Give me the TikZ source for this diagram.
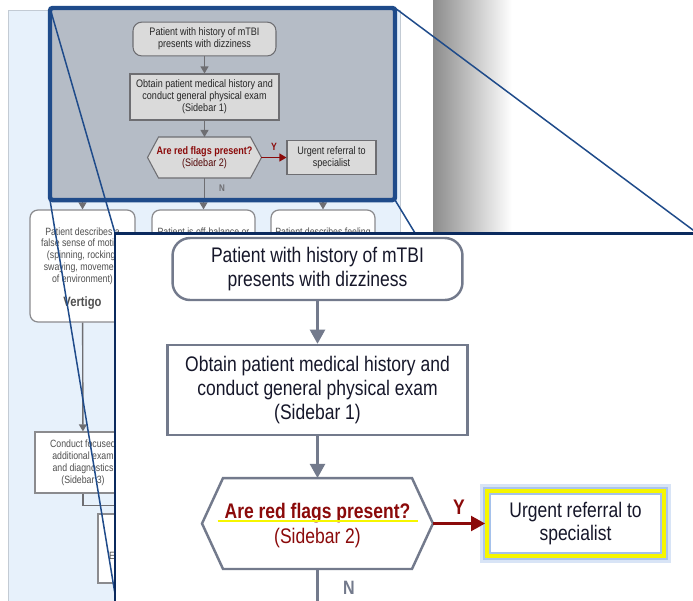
\documentclass[tikz,border=0pt]{standalone}
\usepackage{fontspec}
\setmainfont[FakeStretch=0.83]{Liberation Sans}
\usetikzlibrary{arrows.meta,calc}
\definecolor{panelblue}{HTML}{E7F1FB}
\definecolor{panelline}{HTML}{C3CBD4}
\definecolor{hlfill}{HTML}{B5BCC6}
\definecolor{hlblue}{HTML}{1F4B8A}
\definecolor{insetnavy}{HTML}{0B2A5E}
\definecolor{boxgray}{HTML}{737A8C}
\definecolor{smallgray}{HTML}{6E6E72}
\definecolor{smallfill}{HTML}{DADADA}
\definecolor{flagred}{HTML}{8B0A0A}
\definecolor{inktext}{HTML}{16172A}
\definecolor{pagetext}{HTML}{505050}
\definecolor{glowblue}{HTML}{7FA7E2}
\definecolor{markyellow}{HTML}{F6F600}
\definecolor{shadowgray}{HTML}{8C8C8C}

\begin{document}
\begin{tikzpicture}[x=0.02cm,y=-0.02cm,
	bigbox/.style={draw=boxgray,line width=1.4pt,fill=white,text=inktext,align=center,font=\fontsize{12}{13.6}\selectfont},
	bigline/.style={draw=boxgray,line width=1.4pt},
	bigarrow/.style={bigline,-{Triangle[width=8.5pt,length=8pt]}},
	redarrow/.style={draw=flagred,line width=1.4pt,-{Triangle[width=8.5pt,length=8pt]}},
	smallbox/.style={draw=smallgray,line width=0.6pt,fill=smallfill,text=black!85,align=center,font=\fontsize{6.2}{6.8}\selectfont},
	smallline/.style={draw=smallgray,line width=0.8pt},
	smallarrow/.style={smallline,-{Triangle[width=4.5pt,length=4pt]}},
	smallred/.style={draw=flagred,line width=0.8pt,-{Triangle[width=4.5pt,length=4pt]}},
	pagebox/.style={draw=smallgray!80,line width=0.7pt,fill=white,text=pagetext,align=center,font=\fontsize{6}{6.8}\selectfont},
	pagetxt/.style={text=pagetext,align=center,font=\fontsize{6}{6.8}\selectfont},
	zoomline/.style={draw=hlblue,line width=0.85pt},
	hexslot/.style={draw=none,inner sep=0pt,outer sep=0pt},
	urgentbox/.style={bigbox,draw=markyellow,line width=2.8pt,
		preaction={draw=glowblue,line width=8.5pt,opacity=0.3},
		preaction={draw=glowblue,line width=5.5pt,opacity=0.5}}]
	\useasboundingbox (0,0) rectangle (693,600);
	\clip (0,0) rectangle (693,600);
	\fill[white] (0,0) rectangle (693,600);
	\coordinate (hl-nw) at (50,8);
	\coordinate (hl-sw) at (50,200);
	\coordinate (hl-ne) at (395,8);
	\coordinate (hl-se) at (395,200);
	\coordinate (in-nw) at (115,233);
	\coordinate (in-sw) at (116,600);
	\coordinate (in-ne) at (697,233);
	\coordinate (in-se) at (475,332);
	\coordinate (bottom) at (0,620);

	% page behind the zoom
	\draw[fill=panelblue,draw=panelline,line width=0.5pt] (8,10) rectangle (400,620);
	\shade[left color=shadowgray,right color=white] (433,-5) rectangle (512,240);

	\node[pagebox,rounded corners=4.5pt,minimum width=2.1cm,minimum height=2.24cm] (b1) at (82.5,266) {};
	\node[pagebox,rounded corners=4.5pt,minimum width=2.06cm,minimum height=2.24cm] (b2) at (203.5,266) {};
	\node[pagebox,rounded corners=4.5pt,minimum width=2.08cm,minimum height=2.24cm] (b3) at (323,266) {};
	\node[pagetxt,anchor=north,inner sep=0pt] (b1text) at (82.5,227) {Patient describes a\\false sense of motion\\(spinning, rocking,\\swaying, movement\\of environment)};
	\node[pagetxt,font=\fontsize{7.7}{8}\selectfont\bfseries] (vertigo) at (82.5,303) {Vertigo};
	\node[pagetxt,anchor=north,inner sep=0pt] (b2text) at (203.5,227) {Patient is off-balance or};
	\node[pagetxt,anchor=north,inner sep=0pt] (b3text) at (323,227) {Patient describes feeling};
	\node[pagebox,minimum width=1.92cm,minimum height=1.22cm] (b4) at (83,462.5) {Conduct focused\\additional exam\\and diagnostics\\(Sidebar 3)};
	\node[pagebox,minimum width=2cm,minimum height=1.38cm] (b5) at (148,548.5) {};
	\node[pagetxt,anchor=west] (b5text) at (103,556) {E};
	\draw[smallarrow] (b1) -- (b4);
	\draw[smallline] (b4.south) -- ++(0,12) -- ++(60,0);
	\foreach \b in {b1,b2,b3}
	\draw[smallarrow] (\b.north |- hl-sw) -- (\b.north);

	% highlighted part
	\fill[hlfill] (hl-nw) rectangle (hl-se);
	\node[smallbox,rounded corners=5pt,minimum width=2.86cm,minimum height=0.6cm] (shistory) at (204.5,39) {Patient with history of mTBI\\presents with dizziness};
	\node[smallbox,minimum width=2.98cm,minimum height=0.92cm] (sexam) at (204.5,97) {Obtain patient medical history and\\conduct general physical exam\\(Sidebar 1)};
	\node[hexslot,minimum width=2.28cm,minimum height=0.82cm] (sflags) at (204.5,157.5) {};
	\filldraw[smallbox] (sflags.west) -- ($(sflags.north west)+(11,0)$) -- ($(sflags.north east)+(-11,0)$) -- (sflags.east) -- ($(sflags.south east)+(-11,0)$) -- ($(sflags.south west)+(11,0)$) -- cycle;
	\node[smallbox,draw=none,fill=none] (sflagstext) at (sflags) {{\bfseries\color{flagred}Are red flags present?}\\{\color{flagred!60!black}(Sidebar 2)}};
	\node[smallbox,minimum width=1.78cm,minimum height=0.66cm] (surgent) at (331.5,157.5) {Urgent referral to\\specialist};
	\draw[smallarrow] (shistory) -- (sexam);
	\draw[smallarrow] (sexam) -- (sflags);
	\draw[smallred] (sflags.east) -- (surgent.west) node[midway,above=0pt,text=flagred,font=\fontsize{6}{6}\selectfont\bfseries] (sy) {Y};
	\draw[smallline] (sflags.south) -- (sflags.south |- hl-sw);
	\node[text=smallgray,font=\fontsize{5.5}{6}\selectfont\bfseries] (sn) at (222,188) {N};
	\draw[hlblue,line width=2.55pt,rounded corners=1.5pt] (hl-nw) rectangle (hl-se);

	% zoom lines
	\draw[zoomline] (hl-nw) -- (in-nw);
	\draw[zoomline] (hl-sw) -- (in-sw);
	\draw[zoomline] (hl-ne) -- (in-ne);
	\draw[zoomline] (hl-se) -- (in-se);

	% zoomed inset
	\draw[fill=white,draw=insetnavy,line width=1.7pt] (in-nw) rectangle (730,650);
	\node[bigbox,rounded corners=10pt,minimum width=5.8cm,minimum height=1.24cm] (history) at (317.5,269) {Patient with history of mTBI\\presents with dizziness};
	\node[bigbox,minimum width=6cm,minimum height=1.8cm] (exam) at (317.5,390) {Obtain patient medical history and\\conduct general physical exam\\(Sidebar 1)};
	\node[hexslot,minimum width=4.62cm,minimum height=1.82cm] (flags) at (317.5,523.5) {};
	\draw[bigline] (flags.west) -- ($(flags.north west)+(21,0)$) -- ($(flags.north east)+(-21,0)$) -- (flags.east) -- ($(flags.south east)+(-21,0)$) -- ($(flags.south west)+(21,0)$) -- cycle;
	\node[bigbox,draw=none,fill=none,font=\fontsize{12}{14.2}\selectfont] (flagstext) at ($(flags)+(0,2)$) {{\bfseries\color{flagred}Are red flags present?}\\{\color{flagred}(Sidebar 2)}};
	\draw[markyellow,line width=1.1pt] ($(flags)+(-100,-2.5)$) -- ($(flags)+(100,-2.5)$);
	\node[urgentbox,minimum width=3.52cm,minimum height=1.28cm] (urgent) at (575.5,523.5) {Urgent referral to\\specialist};
	\draw[glowblue!70,line width=1pt] ($(urgent.north west)+(5,5)$) rectangle ($(urgent.south east)+(-5,-5)$);
	\draw[bigarrow] (history) -- (exam);
	\draw[bigarrow] (exam) -- (flags);
	\draw[redarrow] (flags.east) -- (urgent.west) node[midway,above=1pt,text=flagred,font=\fontsize{12}{12}\selectfont\bfseries] (ylabel) {Y};
	\draw[bigline] (flags.south) -- (flags.south |- bottom);
	\node[text=boxgray,font=\fontsize{11}{11}\selectfont\bfseries] (nlabel) at (349,588) {N};
\end{tikzpicture}
\end{document}
